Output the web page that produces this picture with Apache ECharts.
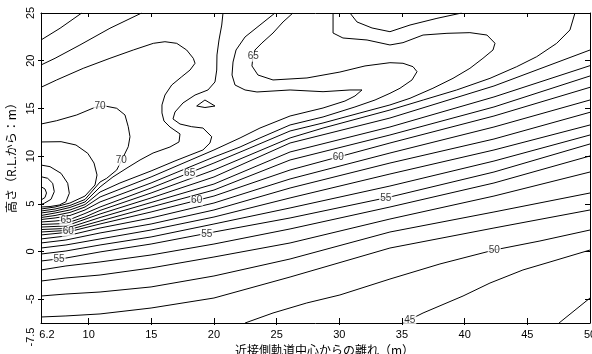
<!DOCTYPE html>
<html><head><meta charset="utf-8">
<script src="https://cdn.jsdelivr.net/npm/echarts@6/dist/echarts.min.js"></script>
<style>html,body{margin:0;padding:0;background:#fff}#c{width:592px;height:354px}</style>
</head><body><div id="c"></div>
<script>
// axis ticks / labels
const xTickValues = [10, 15, 20, 25, 30, 35, 40, 45];
const xLabelValues = [6.2, 10, 15, 20, 25, 30, 35, 40, 45, 50];
const yTickValues = [-5, 0, 5, 10, 15, 20];
const yLabelValues = [-7.5, -5, 0, 5, 10, 15, 20, 25];

// contour polylines, [distance m, height m]
const c74 = [[6.2,6.79],[6.52,6.55],[6.64,6.13],[6.52,5.66],[6.2,5.39]];
const c73 = [[6.2,7.84],[6.73,7.67],[7.13,7.15],[7.26,6.27],[7.0,5.47],[6.46,5.05],[6.2,4.92]];
const c72 = [[6.2,9.06],[6.92,8.89],[7.80,8.19],[8.33,7.15],[8.46,6.10],[8.19,5.21],[7.66,4.87],[6.92,4.71],[6.2,4.66]];
const c71 = [[6.2,11.48],[7.80,11.51],[8.99,11.16],[9.93,10.29],[10.43,9.27],[10.67,8.02],[10.51,6.97],[9.71,5.81],[8.51,5.08],[7.32,4.66],[6.2,4.45]];
const c70 = [[6.2,13.36],[7.45,13.71],[9.05,14.31],[10.51,15.11],[11.31,15.25],[12.24,15.01],[12.90,14.31],[13.16,13.08],[13.30,12.03],[13.16,10.98],[12.77,9.93],[12.56,9.38],[12.24,8.54],[11.44,7.67],[10.91,7.28],[9.71,5.45],[8.51,4.82],[7.32,4.45],[6.2,4.24]];
const c69 = [[6.2,17.21],[7.45,17.98],[9.57,19.20],[11.70,20.25],[13.56,21.12],[15.16,21.82],[16.09,21.99],[17.03,21.82],[17.82,21.12],[18.35,20.25],[18.49,19.73],[18.09,19.02],[17.43,18.32],[16.63,17.45],[16.09,16.40],[15.85,15.36],[15.85,14.52],[16.01,13.68],[16.49,13.05],[17.29,12.32],[17.21,11.48],[16.49,10.95],[15.14,10.32],[14.10,9.59],[13.06,8.75],[11.94,7.81],[10.91,6.76],[9.71,5.19],[8.51,4.61],[7.32,4.24],[6.2,4.03]];
const c68a = [[6.2,19.55],[7.32,20.25],[9.31,21.65],[11.70,23.40],[14.23,25]];
const c68b = [[20.72,25],[20.62,23.74],[20.40,22.17],[20.24,20.60],[20.22,19.02],[20.08,17.77],[19.52,16.93],[18.49,16.40],[17.53,15.57],[16.89,14.62],[16.73,13.89],[17.29,13.36],[18.22,13.08],[19.12,12.94],[19.82,12.03],[19.68,11.37],[19.12,10.64],[18.09,10.11],[16.89,9.49],[14.98,8.44],[12.50,7.18],[10.91,6.23],[9.71,4.92],[8.51,4.35],[7.32,4.03],[6.2,3.77]];
const c67a = [[6.2,22.17],[7.72,23.40],[9.45,25]];
const c67b = [[24.87,25],[23.67,23.74],[22.48,22.49],[21.76,21.12],[21.52,19.86],[21.44,18.50],[21.68,17.45],[22.48,16.93],[23.43,16.72],[26.07,16.93],[28.70,16.75],[30.85,16.93],[31.81,16.93],[31.25,16.30],[30.45,15.77],[28.70,15.04],[26.07,14.20],[23.67,12.94],[22.08,11.90],[20.0,10.64],[14.98,7.81],[10.91,5.71],[9.71,4.66],[8.51,4.09],[7.32,3.77],[6.2,3.56]];
const c67c = [[18.62,15.25],[19.28,15.88],[20.08,15.25],[19.28,15.09],[18.62,15.25]];
const c66 = [[26.30,25],[25.51,24.06],[24.71,22.90],[23.83,21.86],[23.27,21.12],[23.11,20.39],[23.03,19.45],[23.51,18.50],[24.71,17.98],[27.42,18.19],[30.05,18.81],[32.05,19.45],[34.04,19.79],[35.08,19.73],[35.88,19.37],[36.20,18.85],[35.80,17.98],[34.84,17.11],[34.04,16.58],[32.85,15.88],[31.25,15.15],[28.70,14.10],[26.07,13.26],[23.67,11.90],[22.08,10.95],[20.0,9.90],[14.98,7.18],[10.91,5.19],[9.71,4.35],[8.51,3.77],[7.32,3.51],[6.2,3.35]];
const c65 = [[29.50,25],[29.50,22.90],[30.29,22.38],[32.21,22.17],[34.04,21.65],[35.08,21.89],[36.68,22.69],[38.59,22.87],[40.42,22.94],[41.78,22.69],[42.42,21.83],[42.26,21.12],[41.46,20.25],[40.42,19.20],[39.07,18.15],[37.47,17.11],[35.64,16.06],[34.04,15.36],[31.65,14.52],[28.70,13.47],[26.07,12.63],[22.87,10.85],[20.0,9.27],[14.98,6.65],[10.91,4.66],[9.71,3.98],[8.51,3.35],[7.32,3.19],[6.2,3.09]];
const c64a = [[30.85,25],[31.41,24.06],[32.61,23.43],[34.04,23.04],[35.64,23.74],[37.79,24.44],[39.76,25]];
const c64b = [[48.80,25],[48.40,23.22],[47.34,21.82],[45.75,20.42],[44.15,19.37],[42.02,18.15],[39.36,16.93],[36.70,15.88],[34.04,14.83],[28.70,12.94],[26.07,11.90],[20.0,8.54],[14.98,6.13],[10.91,4.30],[9.71,3.61],[8.51,3.09],[8.19,2.93],[6.2,2.83]];
// fan lines read at distances 6.2, 8.19, 10.91, 14.98, 20, 26.07, 34.04, 42.34, 50
const c63 = [[6.2,2.56],[8.19,2.67],[10.91,3.93],[14.98,5.61],[20,7.81],[26.07,11.37],[34.04,13.99],[42.34,17.35],[50,21.12]];
const c62 = [[6.2,2.30],[8.19,2.41],[10.91,3.56],[14.98,5.13],[20,7.07],[26.07,10.43],[34.04,13.05],[42.34,16.20],[50,19.48]];
const c61 = [[6.2,2.04],[8.19,2.20],[10.91,3.19],[14.98,4.66],[20,6.44],[26.07,9.59],[34.04,12.21],[42.34,15.15],[50,18.40]];
const c60 = [[6.2,1.73],[8.19,1.99],[10.91,2.88],[14.98,4.14],[20,5.81],[26.07,8.54],[34.04,11.37],[42.34,14.20],[50,17.21]];
const c59 = [[6.2,1.31],[8.19,1.62],[10.91,2.46],[14.98,3.51],[20,5.08],[26.07,7.60],[34.04,10.32],[42.34,13.05],[50,15.88]];
const c58 = [[6.2,0.89],[8.19,1.20],[10.91,1.94],[14.98,2.88],[20,4.35],[26.07,6.65],[34.04,9.27],[42.34,11.79],[50,14.59]];
const c57 = [[6.2,0.36],[8.19,0.68],[10.91,1.31],[14.98,2.25],[20,3.61],[26.07,5.61],[34.04,8.12],[42.34,10.64],[50,13.26]];
const c56 = [[6.2,-0.27],[8.19,0.05],[10.91,0.68],[14.98,1.52],[20,2.88],[26.07,4.56],[34.04,6.86],[42.34,9.48],[50,12.21]];
const c55 = [[6.2,-1.0],[8.19,-0.69],[10.91,-0.05],[14.98,0.78],[20,2.04],[26.07,3.51],[34.04,5.71],[42.34,8.33],[50,11.27]];
const c54 = [[6.2,-1.94],[8.19,-1.52],[10.91,-1.10],[14.98,-0.37],[20,0.78],[26.07,2.36],[34.04,4.66],[42.34,7.18],[50,10.01]];
const c53 = [[6.2,-3.10],[8.19,-2.78],[10.91,-2.47],[14.98,-1.73],[20,-0.58],[26.07,0.89],[34.04,3.40],[42.34,5.81],[50,8.33]];
const c52 = [[6.2,-4.67],[8.19,-4.46],[10.91,-4.25],[14.98,-3.72],[20,-2.57],[26.07,-0.79],[34.04,2.04],[42.34,4.14],[50,6.13]];
const c51 = [[6.2,-6.87],[8.19,-6.76],[10.91,-6.55],[14.98,-5.93],[20,-4.88],[26.07,-2.68],[34.04,0.36],[42.34,2.46],[50,4.35]];
const c50 = [[22.48,-7.5],[24.71,-6.45],[27.40,-5.40],[30.05,-4.56],[34.04,-2.89],[38.03,-1.31],[42.34,0.15],[46.01,1.10],[50,2.25]];
const c49 = [[35.08,-7.5],[36.68,-6.45],[39.87,-4.67],[42.02,-3.31],[44.65,-1.94],[46.81,-1.10],[50,0.15]];
const c48 = [[47.53,-7.5],[50,-4.88]];

const contourLines = [c74, c73, c72, c71, c70, c69, c68a, c68b, c67a, c67b, c67c, c66, c65, c64a, c64b,
  c63, c62, c61, c60, c59, c58, c57, c56, c55, c54, c53, c52, c51, c50, c49, c48];

// contour labels
const labelText = ['70', '70', '65', '65', '65', '60', '60', '60', '55', '55', '55', '50', '45'];
const labelX = [10.91, 12.61, 23.14, 18.06, 8.19, 8.38, 18.62, 29.92, 7.64, 19.42, 33.70, 42.36, 35.62];
const labelY = [15.18, 9.52, 20.42, 8.19, 3.22, 2.07, 5.32, 9.83, -0.86, 1.76, 5.57, 0.12, -7.2];

const chart = echarts.init(document.getElementById('c'), null, {renderer: 'canvas'});
const font = 'Liberation Sans, Arial, sans-serif';
const series = contourLines.map(pts => ({
  type: 'line', data: pts, showSymbol: false, symbol: 'none', smooth: false,
  lineStyle: {color: '#000', width: 1}, silent: true, animation: false,
  xAxisIndex: 0, yAxisIndex: 0, z: 2
}));
series.push({
  type: 'scatter', symbolSize: 0, animation: false, z: 5, xAxisIndex: 0, yAxisIndex: 0,
  data: labelX.map((x, i) => ({value: [x, labelY[i]], name: labelText[i]})),
  label: {show: true, position: 'inside', formatter: p => p.name, color: '#000',
    fontSize: 10, fontFamily: font, backgroundColor: '#fff', padding: [0, 1]}
});

const axisLine = {show: true, onZero: false, lineStyle: {color: '#000', width: 1}};
const noLine = {show: false, onZero: false};
chart.setOption({
  animation: false,
  grid: {left: 41, right: 2, top: 13, bottom: 31, containLabel: false, outerBoundsMode: 'none'},
  xAxis: [
    {type: 'value', min: 6.2, max: 50, position: 'bottom', axisLine,
     splitLine: {show: false},
     axisTick: {show: true, inside: true, length: 5, customValues: xTickValues, lineStyle: {color: '#000'}},
     axisLabel: {show: true, customValues: xLabelValues, color: '#000', fontSize: 11, fontFamily: font, margin: 6,
       formatter: v => v === 6.2 ? '{a|6.2}' : String(v), rich: {a: {padding: [0, 0, 0, 12], fontSize: 11, fontFamily: font, color: '#000'}}},
     name: '近接側軌道中心からの離れ（m）', nameLocation: 'middle', nameGap: 19,
     nameTextStyle: {color: '#000', fontSize: 12, fontFamily: 'Noto Sans CJK JP', padding: [0, 0, 0, 18]}},
    {type: 'value', min: 6.2, max: 50, position: 'bottom', axisLine: noLine, splitLine: {show: false},
     axisTick: {show: true, inside: false, length: 2, customValues: xTickValues, lineStyle: {color: '#000'}},
     axisLabel: {show: false}},
    {type: 'value', min: 6.2, max: 50, position: 'top', axisLine, splitLine: {show: false},
     axisTick: {show: true, inside: true, length: 4, customValues: xTickValues, lineStyle: {color: '#000'}},
     axisLabel: {show: false}}
  ],
  yAxis: [
    {type: 'value', min: -7.5, max: 25, position: 'left', axisLine, splitLine: {show: false},
     axisTick: {show: true, inside: true, length: 3, customValues: yTickValues, lineStyle: {color: '#000'}},
     axisLabel: {show: true, customValues: yLabelValues, rotate: 90, color: '#000', fontSize: 11, fontFamily: font, margin: 5,
       formatter: v => v === -7.5 ? '{a|-7.5}' : String(v), rich: {a: {padding: [0, 28, 0, 0], fontSize: 11, fontFamily: font, color: '#000'}}},
     name: '高さ（R.L.から：m）', nameLocation: 'middle', nameGap: 24, nameRotate: 90,
     nameTextStyle: {color: '#000', fontSize: 12, fontFamily: 'Noto Sans CJK JP', padding: [0, 0, 0, 26]}},
    {type: 'value', min: -7.5, max: 25, position: 'left', axisLine: noLine, splitLine: {show: false},
     axisTick: {show: true, inside: false, length: 3, customValues: yTickValues, lineStyle: {color: '#000'}},
     axisLabel: {show: false}},
    {type: 'value', min: -7.5, max: 25, position: 'right', axisLine, splitLine: {show: false},
     axisTick: {show: true, inside: true, length: 5, customValues: yTickValues, lineStyle: {color: '#000'}},
     axisLabel: {show: false}}
  ],
  series
});
</script>
</body></html>
